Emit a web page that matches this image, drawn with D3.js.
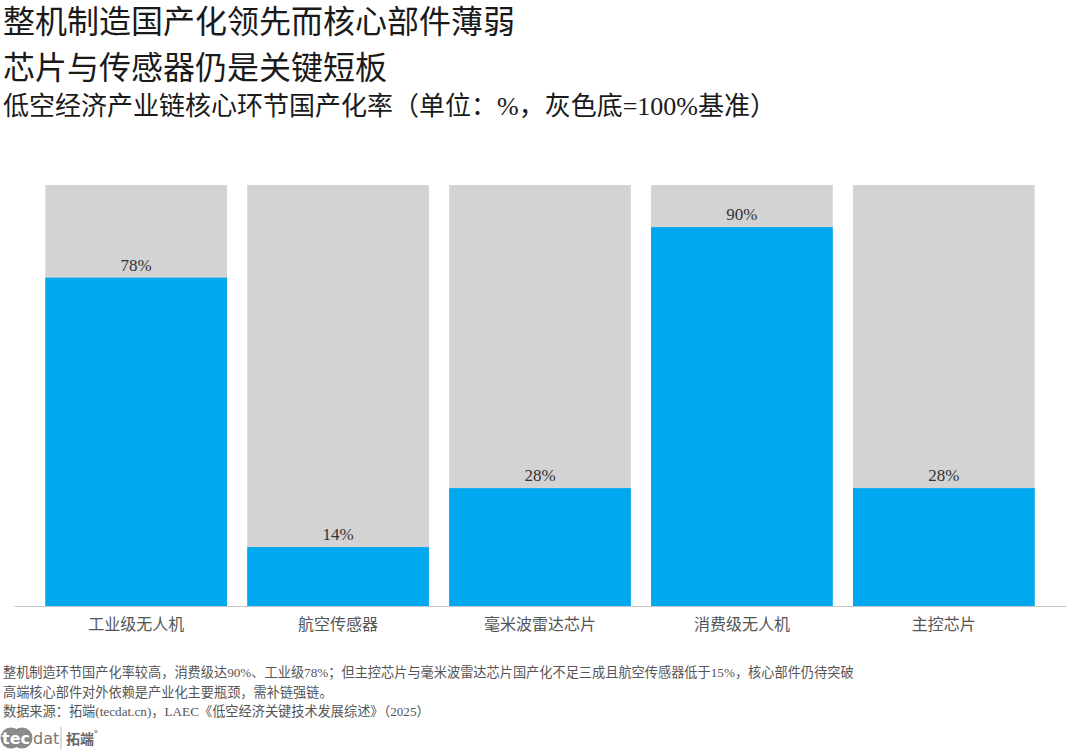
<!DOCTYPE html>
<html>
<head>
<meta charset="utf-8">
<script src="https://cdn.jsdelivr.net/npm/d3@7"></script>
<style>
  body { margin: 0; background: #fff; }
  svg { display: block; }
</style>
</head>
<body>
<div id="chart"></div>
<script>
// chart data
const categories = ["工业级无人机", "航空传感器", "毫米波雷达芯片", "消费级无人机", "主控芯片"];
const rates = [78, 14, 28, 90, 28];
const baseline = [100, 100, 100, 100, 100];

const titleLines = ["整机制造国产化领先而核心部件薄弱", "芯片与传感器仍是关键短板"];
const subtitle = "低空经济产业链核心环节国产化率（单位：%，灰色底=100%基准）";
const notes = [
  "整机制造环节国产化率较高，消费级达90%、工业级78%；但主控芯片与毫米波雷达芯片国产化不足三成且航空传感器低于15%，核心部件仍待突破",
  "高端核心部件对外依赖是产业化主要瓶颈，需补链强链。",
  "数据来源：拓端(tecdat.cn)，LAEC《低空经济关键技术发展综述》（2025）"
];

const width = 1080, height = 756;
const cjk = "'Noto Sans CJK SC', 'Noto Sans', sans-serif";
const mixed = "'Liberation Serif', 'Noto Sans CJK SC', serif";
const serif = "'Liberation Serif', 'DejaVu Serif', serif";

const svg = d3.select("#chart").append("svg")
  .attr("width", width)
  .attr("height", height);

// titles
svg.selectAll("text.title")
  .data(titleLines)
  .enter().append("text")
  .attr("x", 3)
  .attr("y", (d, i) => 33 + i * 46)
  .attr("font-family", cjk)
  .attr("font-size", 32)
  .attr("fill", "#1a1a1a")
  .text(d => d);

svg.append("text")
  .attr("x", 3)
  .attr("y", 115)
  .attr("font-family", mixed)
  .attr("font-size", 26)
  .attr("fill", "#1a1a1a")
  .text(subtitle);

// scales
const x = d3.scaleBand()
  .domain(categories)
  .range([14, 1066])
  .paddingInner(0.1)
  .paddingOuter(0.155);

const y = d3.scaleLinear()
  .domain([0, 100])
  .range([606, 185]);

const g = svg.append("g");

// grey 100% background bars
g.selectAll("rect.base")
  .data(baseline)
  .enter().append("rect")
  .attr("x", (d, i) => x(categories[i]))
  .attr("y", d => y(d))
  .attr("width", x.bandwidth())
  .attr("height", d => y(0) - y(d))
  .attr("fill", "#d3d3d3");

// blue rate bars
g.selectAll("rect.rate")
  .data(rates)
  .enter().append("rect")
  .attr("x", (d, i) => x(categories[i]))
  .attr("y", d => y(d))
  .attr("width", x.bandwidth())
  .attr("height", d => y(0) - y(d))
  .attr("fill", "#00a8f0");

// value labels
g.selectAll("text.val")
  .data(rates)
  .enter().append("text")
  .attr("x", (d, i) => x(categories[i]) + x.bandwidth() / 2)
  .attr("y", d => y(d) - 7)
  .attr("text-anchor", "middle")
  .attr("font-family", serif)
  .attr("font-size", 17)
  .attr("fill", "#333")
  .text(d => d + "%");

// x axis
const xAxis = svg.append("g")
  .attr("transform", "translate(0," + y(0) + ")")
  .call(d3.axisBottom(x).tickSize(0).tickPadding(13));
xAxis.select(".domain").attr("stroke", "#c8c8c8").attr("stroke-width", 1.2);
xAxis.selectAll("text")
  .attr("font-family", cjk)
  .attr("font-size", 16)
  .attr("fill", "#555");

// notes
svg.selectAll("text.note")
  .data(notes)
  .enter().append("text")
  .attr("x", 3)
  .attr("y", (d, i) => 677 + i * 19.5)
  .attr("font-family", mixed)
  .attr("font-size", 13.2)
  .attr("fill", "#555")
  .text(d => d);

// logo
const logo = svg.append("g").attr("transform", "translate(0,738)");
[11, 22].forEach(cx => {
  logo.append("circle").attr("cx", cx).attr("cy", 0).attr("r", 10.5).attr("fill", "#8a8a8a");
});
logo.append("text").attr("x", 2).attr("y", 6)
  .attr("font-family", "'DejaVu Sans', sans-serif").attr("font-size", 16).attr("font-weight", "bold")
  .attr("fill", "#fff").text("tec");
logo.append("text").attr("x", 33).attr("y", 6)
  .attr("font-family", "'DejaVu Sans', sans-serif").attr("font-size", 16)
  .attr("fill", "#777").text("dat");
logo.append("line").attr("x1", 61).attr("x2", 61).attr("y1", -11).attr("y2", 11)
  .attr("stroke", "#bbb");
logo.append("text").attr("x", 66).attr("y", 6)
  .attr("font-family", cjk).attr("font-size", 14).attr("font-weight", "bold")
  .attr("fill", "#666").text("拓端");
logo.append("text").attr("x", 94).attr("y", -2)
  .attr("font-family", cjk).attr("font-size", 8)
  .attr("fill", "#666").text("®");
</script>
</body>
</html>
